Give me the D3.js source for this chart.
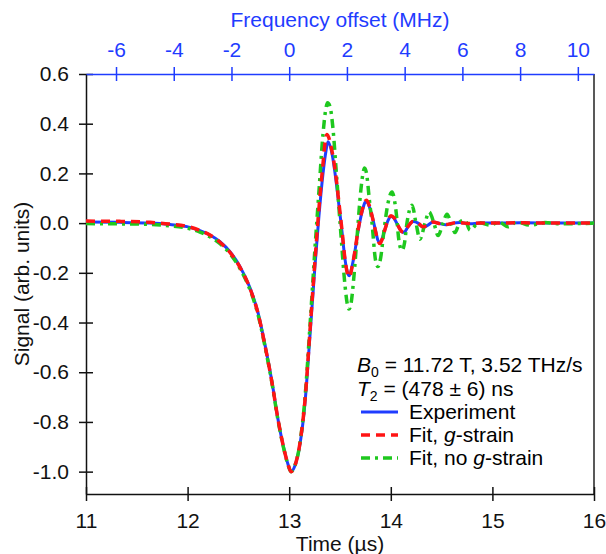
<!DOCTYPE html>
<html>
<head>
<meta charset="utf-8">
<script src="https://cdn.jsdelivr.net/npm/d3@7"></script>
<style>
  body { margin: 0; background: #fff; }
  text { font-family: "Liberation Sans", Arial, sans-serif; }
</style>
</head>
<body>
<div id="chart"></div>
<script>
// time axis (us) and signal values
const expTime = [11.000, 11.335, 11.630, 11.827, 11.994, 12.122, 12.220, 12.319, 12.417, 12.516, 12.614, 12.693, 12.762, 12.831, 12.890, 12.949, 12.988, 13.018, 13.057, 13.106, 13.156, 13.205, 13.254, 13.293, 13.333, 13.362, 13.382, 13.421, 13.461, 13.490, 13.520, 13.549, 13.579, 13.593, 13.618, 13.648, 13.677, 13.717, 13.746, 13.761, 13.785, 13.815, 13.844, 13.874, 13.894, 13.913, 13.943, 13.972, 14.002, 14.031, 14.071, 14.110, 14.130, 14.169, 14.218, 14.268, 14.317, 14.366, 14.415, 14.484, 14.543, 14.612, 14.681, 14.780, 14.878, 15.272, 15.665, 16.000];
const expSignal = [0.004, 0.003, 0.0, -0.006, -0.014, -0.03, -0.048, -0.075, -0.115, -0.175, -0.26, -0.36, -0.49, -0.64, -0.79, -0.91, -0.97, -1.0, -0.975, -0.89, -0.72, -0.45, -0.17, 0.03, 0.2, 0.29, 0.327, 0.28, 0.17, 0.07, -0.035, -0.145, -0.205, -0.212, -0.175, -0.11, -0.035, 0.045, 0.083, 0.087, 0.07, 0.03, -0.02, -0.07, -0.08, -0.065, -0.025, 0.01, 0.027, 0.02, -0.01, -0.035, -0.037, -0.015, 0.006, 0.0, -0.017, -0.008, 0.004, -0.002, -0.007, 0.0, 0.002, -0.003, 0.0, 0.001, 0.0, 0.0];

const gFitTime = [11.000, 11.335, 11.630, 11.827, 11.994, 12.122, 12.220, 12.319, 12.417, 12.516, 12.614, 12.693, 12.762, 12.831, 12.890, 12.949, 12.988, 13.018, 13.057, 13.106, 13.156, 13.205, 13.254, 13.293, 13.333, 13.355, 13.372, 13.411, 13.461, 13.490, 13.520, 13.549, 13.579, 13.593, 13.618, 13.648, 13.677, 13.717, 13.746, 13.761, 13.785, 13.815, 13.844, 13.874, 13.894, 13.913, 13.943, 13.972, 14.002, 14.031, 14.071, 14.110, 14.130, 14.169, 14.218, 14.268, 14.317, 14.366, 14.415, 14.484, 14.543, 14.612, 14.681, 14.780, 14.878, 15.272, 15.665, 16.000];
const gFitSignal = [0.008, 0.007, 0.003, -0.004, -0.013, -0.03, -0.048, -0.077, -0.118, -0.178, -0.263, -0.363, -0.493, -0.643, -0.79, -0.91, -0.97, -1.0, -0.975, -0.885, -0.71, -0.43, -0.15, 0.06, 0.24, 0.33, 0.357, 0.31, 0.185, 0.08, -0.03, -0.145, -0.21, -0.216, -0.178, -0.11, -0.03, 0.05, 0.088, 0.092, 0.074, 0.03, -0.022, -0.072, -0.082, -0.067, -0.025, 0.012, 0.03, 0.022, -0.01, -0.034, -0.036, -0.014, 0.006, 0.0, -0.015, -0.007, 0.004, -0.002, -0.006, 0.0, 0.002, -0.002, 0.0, 0.001, 0.0, 0.0];

const noGFitTime = [11.000, 11.335, 11.630, 11.827, 11.994, 12.122, 12.220, 12.319, 12.417, 12.516, 12.614, 12.693, 12.762, 12.831, 12.890, 12.949, 12.988, 13.018, 13.057, 13.106, 13.156, 13.205, 13.254, 13.293, 13.333, 13.357, 13.377, 13.401, 13.431, 13.461, 13.510, 13.549, 13.574, 13.589, 13.608, 13.638, 13.667, 13.707, 13.731, 13.741, 13.761, 13.790, 13.815, 13.850, 13.874, 13.900, 13.933, 13.972, 14.012, 14.051, 14.080, 14.110, 14.135, 14.159, 14.209, 14.248, 14.287, 14.337, 14.376, 14.425, 14.465, 14.514, 14.553, 14.593, 14.632, 14.681, 14.730, 14.780, 14.868, 14.976, 15.065, 15.154, 15.242, 15.370, 15.518, 15.665, 16.000];
const noGFitSignal = [-0.002, -0.003, -0.005, -0.011, -0.02, -0.036, -0.055, -0.083, -0.123, -0.183, -0.268, -0.368, -0.497, -0.645, -0.793, -0.912, -0.972, -1.0, -0.975, -0.885, -0.70, -0.41, -0.1, 0.13, 0.36, 0.45, 0.484, 0.47, 0.38, 0.22, -0.05, -0.25, -0.33, -0.346, -0.325, -0.21, -0.06, 0.14, 0.21, 0.222, 0.2, 0.09, 0.0, -0.15, -0.175, -0.14, -0.03, 0.08, 0.125, 0.05, -0.07, -0.11, -0.08, 0.0, 0.072, 0.0, -0.065, 0.0, 0.045, 0.0, -0.05, 0.0, 0.036, 0.0, -0.038, 0.005, 0.012, -0.028, 0.002, -0.008, 0.004, -0.015, 0.005, -0.008, 0.002, -0.003, 0.0];

const timeTicks = [11, 12, 13, 14, 15, 16];
const signalTicks = [0.6, 0.4, 0.2, 0.0, -0.2, -0.4, -0.6, -0.8, -1.0];
const freqTicks = [-6, -4, -2, 0, 2, 4, 6, 8, 10];

// sweep rate 3.52 THz/s = 3.52 MHz/us, zero offset at 13 us
const sweepRate = 3.52;
const zeroTime = 13.0;

const margin = { top: 74, right: 12, bottom: 60, left: 86 };
const W = 606, H = 554;
const width = W - margin.left - margin.right;
const height = H - margin.top - margin.bottom;

const blue = "#1f3cff", red = "#ff1414", green = "#1ec81e";
const fontSize = 21;

const svg = d3.select("#chart").append("svg")
    .attr("width", W)
    .attr("height", H);

const g = svg.append("g")
    .attr("transform", `translate(${margin.left},${margin.top})`);

const x = d3.scaleLinear().domain([11, 16]).range([0, width]);
const y = d3.scaleLinear().domain([-1.09, 0.6]).range([height, 0]);
const xf = d3.scaleLinear()
    .domain([sweepRate * (11 - zeroTime), sweepRate * (16 - zeroTime)])
    .range([0, width]);

// right frame line
g.append("line")
    .attr("x1", width).attr("x2", width)
    .attr("y1", 0).attr("y2", height)
    .attr("stroke", "#222").attr("stroke-width", 1.5);

function styleAxis(sel, color) {
    sel.select(".domain").attr("stroke", color).attr("stroke-width", 1.5);
    sel.selectAll(".tick line").attr("stroke", color).attr("stroke-width", 1.5);
    sel.selectAll(".tick text")
        .attr("fill", color)
        .style("font-size", fontSize + "px")
        .style("font-family", "'Liberation Sans', Arial, sans-serif");
}

// bottom axis
const xAxisG = g.append("g")
    .attr("transform", `translate(0,${height})`)
    .call(d3.axisBottom(x).tickValues(timeTicks).tickSize(7).tickSizeOuter(0).tickPadding(12).tickFormat(d => d));
styleAxis(xAxisG, "#111");
xAxisG.selectAll(".tick line").attr("y1", -7);

// left axis
const yAxisG = g.append("g")
    .call(d3.axisLeft(y).tickValues(signalTicks).tickSize(7).tickSizeOuter(0).tickPadding(10).tickFormat(d => d.toFixed(1)));
styleAxis(yAxisG, "#111");
yAxisG.selectAll(".tick line").attr("x1", 7);

// top frequency axis
const topAxisG = g.append("g")
    .call(d3.axisTop(xf).tickValues(freqTicks).tickSize(7).tickSizeOuter(0).tickPadding(10).tickFormat(d => d));
styleAxis(topAxisG, blue);
topAxisG.selectAll(".tick line").attr("y1", 7);

// axis titles
svg.append("text")
    .attr("x", margin.left + width / 2)
    .attr("y", 551)
    .attr("text-anchor", "middle")
    .style("font-size", fontSize + "px")
    .attr("fill", "#111")
    .text("Time (\u00b5s)");

svg.append("text")
    .attr("transform", `translate(29,${margin.top + height / 2}) rotate(-90)`)
    .attr("text-anchor", "middle")
    .style("font-size", fontSize + "px")
    .attr("fill", "#111")
    .text("Signal (arb. units)");

svg.append("text")
    .attr("x", margin.left + width / 2)
    .attr("y", 27)
    .attr("text-anchor", "middle")
    .style("font-size", fontSize + "px")
    .attr("fill", blue)
    .text("Frequency offset (MHz)");

// curves
const line = d3.line()
    .x(d => x(d[0]))
    .y(d => y(d[1]))
    .curve(d3.curveMonotoneX);

const series = [
    { name: "Experiment", t: expTime, v: expSignal, color: blue, dash: null, w: 3 },
    { name: "Fit, no g-strain", t: noGFitTime, v: noGFitSignal, color: green, dash: "9,5,3,5", w: 3.5 },
    { name: "Fit, g-strain", t: gFitTime, v: gFitSignal, color: red, dash: "9,6", w: 3.5 }
];

g.append("g").selectAll("path")
    .data(series)
    .join("path")
    .attr("d", s => line(s.t.map((t, i) => [t, s.v[i]])))
    .attr("fill", "none")
    .attr("stroke", s => s.color)
    .attr("stroke-width", s => s.w)
    .attr("stroke-dasharray", s => s.dash);

// legend
const legend = svg.append("g");
const lx = 357;

const l1 = legend.append("text").attr("x", lx).attr("y", 372).style("font-size", fontSize + "px");
l1.append("tspan").style("font-style", "italic").text("B");
l1.append("tspan").attr("dy", 5).style("font-size", "14px").text("0");
l1.append("tspan").attr("dy", -5).text(" = 11.72 T, 3.52 THz/s");

const l2 = legend.append("text").attr("x", lx).attr("y", 396).style("font-size", fontSize + "px");
l2.append("tspan").style("font-style", "italic").text("T");
l2.append("tspan").attr("dy", 5).style("font-size", "14px").text("2");
l2.append("tspan").attr("dy", -5).text(" = (478 \u00b1 6) ns");

const keys = [
    { s: series[0], y: 412, label: [["Experiment", false]] },
    { s: series[2], y: 435, label: [["Fit, ", false], ["g", true], ["-strain", false]] },
    { s: series[1], y: 458, label: [["Fit, no ", false], ["g", true], ["-strain", false]] }
];

keys.forEach(k => {
    legend.append("line")
        .attr("x1", 361).attr("x2", 398)
        .attr("y1", k.y).attr("y2", k.y)
        .attr("stroke", k.s.color)
        .attr("stroke-width", k.s.w)
        .attr("stroke-dasharray", k.s.dash);
    const t = legend.append("text")
        .attr("x", 409).attr("y", k.y + 7)
        .style("font-size", fontSize + "px");
    k.label.forEach(([txt, it]) => {
        t.append("tspan").style("font-style", it ? "italic" : "normal").text(txt);
    });
});
</script>
</body>
</html>
